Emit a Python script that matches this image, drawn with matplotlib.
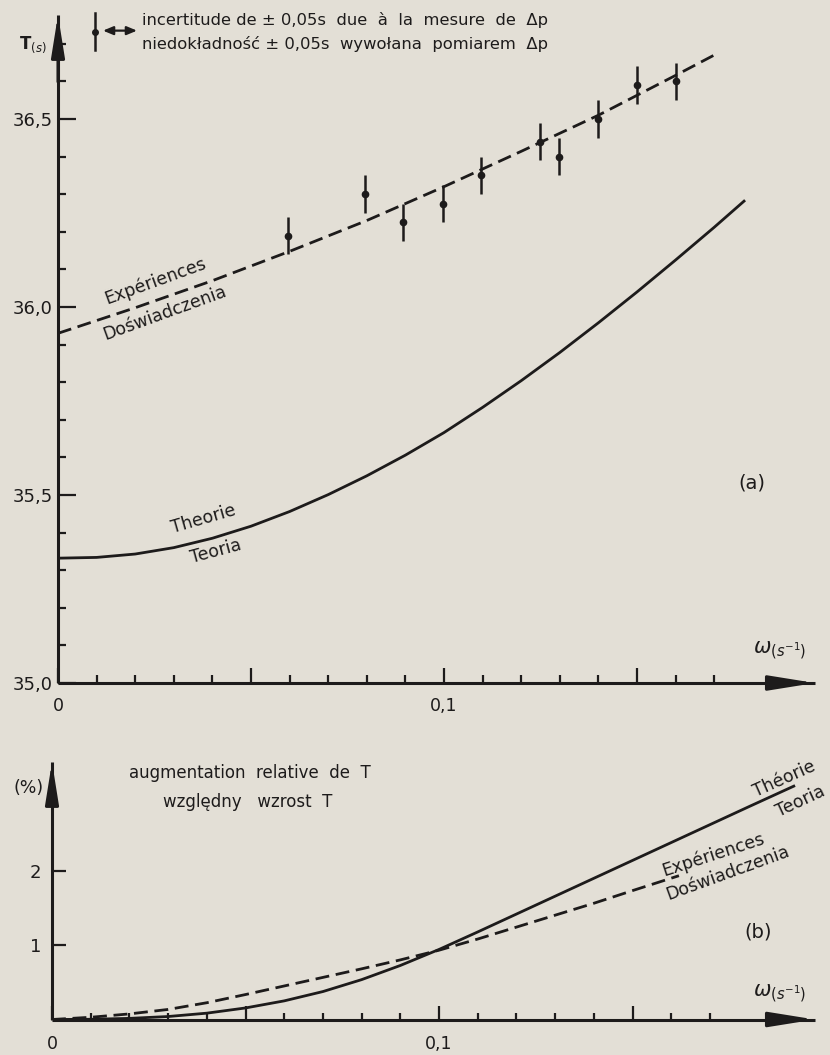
import numpy as np
import matplotlib
matplotlib.use('Agg')
import matplotlib.pyplot as plt

plt.rcParams['font.family'] = ['DejaVu Sans']
plt.rcParams['mathtext.fontset'] = 'dejavusans'

paper = '#e3dfd6'
ink = '#1d1b1b'

# --- (a) periode T en fonction de omega ---
omega_pts = [0.0595, 0.0795, 0.0895, 0.0997, 0.1096, 0.1249, 0.1298, 0.140, 0.150, 0.160]
T_pts = [36.19, 36.30, 36.225, 36.275, 36.35, 36.44, 36.40, 36.50, 36.59, 36.60]
T_err = 0.05

omega_exp = [0, 0.02, 0.04, 0.06, 0.08, 0.10, 0.12, 0.14, 0.16, 0.17]
T_exp = [35.93, 35.998, 36.07, 36.148, 36.23, 36.32, 36.414, 36.51, 36.616, 36.67]

omega_th = [0, 0.01, 0.02, 0.03, 0.04, 0.05, 0.06, 0.07, 0.08, 0.09,
            0.10, 0.11, 0.12, 0.13, 0.14, 0.15, 0.16, 0.17, 0.178]
T_th = [35.332, 35.334, 35.343, 35.360, 35.385, 35.417, 35.456, 35.501, 35.551, 35.606,
        35.666, 35.733, 35.804, 35.879, 35.958, 36.040, 36.125, 36.212, 36.284]

T_ticks = [35.0, 35.5, 36.0, 36.5]
T_ticklabels = ['35,0', '35,5', '36,0', '36,5']

# --- (b) augmentation relative (%) ---
omega_b_th = [0, 0.01, 0.02, 0.03, 0.04, 0.05, 0.06, 0.07, 0.08, 0.09,
              0.10, 0.11, 0.12, 0.13, 0.14, 0.15, 0.16, 0.17, 0.18, 0.192]
pct_th = [0, 0.003, 0.015, 0.04, 0.085, 0.155, 0.25, 0.375, 0.535, 0.725,
          0.94, 1.175, 1.415, 1.655, 1.895, 2.135, 2.375, 2.615, 2.855, 3.14]

omega_b_exp = [0, 0.01, 0.02, 0.03, 0.04, 0.05, 0.06, 0.07, 0.08, 0.09,
               0.10, 0.11, 0.12, 0.13, 0.14, 0.15, 0.162]
pct_exp = [0, 0.03, 0.075, 0.135, 0.225, 0.335, 0.45, 0.565, 0.68, 0.80,
           0.93, 1.08, 1.24, 1.40, 1.56, 1.73, 1.93]

pct_ticks = [1, 2]
pct_ticklabels = ['1', '2']

omega_major = [0, 0.05, 0.10, 0.15]
omega_labels = ['0', '', '0,1', '']
omega_minor = [0.01, 0.02, 0.03, 0.04, 0.06, 0.07, 0.08, 0.09,
               0.11, 0.12, 0.13, 0.14, 0.16, 0.17]

dash = (0, (5, 2.4))

fig = plt.figure(figsize=(8.3, 10.55), dpi=100, facecolor=paper)


def axes_px(left, right, top, bottom):
    # position d'un axe en pixels de la figure (origine en haut a gauche)
    W, H = 830, 1055
    return fig.add_axes([left / W, (H - bottom) / H, (right - left) / W, (bottom - top) / H])


def style_axes(ax):
    ax.set_facecolor('none')
    for s in ['top', 'right']:
        ax.spines[s].set_visible(False)
    for s in ['left', 'bottom']:
        ax.spines[s].set_linewidth(2.2)
        ax.spines[s].set_color(ink)
        ax.spines[s].set_capstyle('butt')
    # fleches au bout des axes
    ax.annotate('', xy=(1, 0), xytext=(0.94, 0), xycoords='axes fraction',
                arrowprops=dict(arrowstyle='-|>,head_length=2.8,head_width=0.45',
                                lw=2.2, color=ink, shrinkA=0, shrinkB=0, mutation_scale=10))
    ax.annotate('', xy=(0, 1), xytext=(0, 0.9), xycoords='axes fraction',
                arrowprops=dict(arrowstyle='-|>,head_length=2.5,head_width=0.4',
                                lw=2.2, color=ink, shrinkA=0, shrinkB=0, mutation_scale=10))


# ================= (a) =================
ax = axes_px(58, 815, 15, 683)
style_axes(ax)
ax.set_xlim(0, 757 / 3860)
ax.set_ylim(35.0, 35.0 + 668 / 376)

ax.plot(omega_th, T_th, color=ink, lw=2.0, solid_capstyle='butt')
ax.plot(omega_exp, T_exp, color=ink, lw=2.0, linestyle=dash)
ax.errorbar(omega_pts, T_pts, yerr=T_err, fmt='o', ms=4.5, color=ink,
            elinewidth=1.8, capsize=0)

ax.set_xticks(omega_major)
ax.set_xticklabels(omega_labels)
ax.set_xticks(omega_minor, minor=True)
ax.set_yticks(T_ticks)
ax.set_yticklabels(T_ticklabels)
ax.set_yticks(np.round(np.arange(35.1, 36.75, 0.1), 1), minor=True)
ax.tick_params(axis='x', which='major', direction='in', length=11, width=1.6,
               colors=ink, labelsize=12.5, pad=10)
ax.tick_params(axis='x', which='minor', direction='in', length=6, width=1.6, colors=ink)
ax.tick_params(axis='y', which='major', direction='in', length=13, width=1.6,
               colors=ink, labelsize=13, pad=4)
ax.tick_params(axis='y', which='minor', direction='in', length=6, width=1.6, colors=ink)

ax.text(-0.033, 0.955, r'T$_{(s)}$', transform=ax.transAxes, fontsize=12,
        ha='center', va='center', color=ink, fontweight='bold')
ax.text(0.187, 35.085, r'$\omega_{(s^{-1})}$', fontsize=15, ha='center', va='center', color=ink)
ax.text(0.1798, 35.532, '(a)', fontsize=14, ha='center', va='center', color=ink)

ax.text(0.0251, 36.07, 'Expériences', rotation=20, fontsize=12.5,
        ha='center', va='center', color=ink, rotation_mode='anchor')
ax.text(0.0277, 35.985, 'Doświadczenia', rotation=20, fontsize=12.5,
        ha='center', va='center', color=ink, rotation_mode='anchor')
ax.text(0.0376, 35.436, 'Theorie', rotation=16, fontsize=12.5,
        ha='center', va='center', color=ink, rotation_mode='anchor')
ax.text(0.0409, 35.351, 'Teoria', rotation=15, fontsize=12.5,
        ha='center', va='center', color=ink, rotation_mode='anchor')

# cle de l'incertitude
ax.plot([0.0489, 0.0489], [0.948, 1.003], transform=ax.transAxes, color=ink,
        lw=1.8, clip_on=False)
ax.plot([0.0489], [0.9746], 'o', ms=4, transform=ax.transAxes, color=ink, clip_on=False)
ax.annotate('', xy=(0.1044, 0.9766), xytext=(0.0594, 0.9766), xycoords='axes fraction',
            arrowprops=dict(arrowstyle='<|-|>,head_length=0.6,head_width=0.25',
                            lw=1.6, color=ink, shrinkA=0, shrinkB=0))
ax.text(0.111, 0.9925, 'incertitude de ± 0,05s  due  à  la  mesure  de  Δp',
        transform=ax.transAxes, fontsize=11.8, ha='left', va='center', color=ink)
ax.text(0.111, 0.9566, 'niedokładność ± 0,05s  wywołana  pomiarem  Δp',
        transform=ax.transAxes, fontsize=11.8, ha='left', va='center', color=ink)

# ================= (b) =================
bx = axes_px(52, 815, 762, 1019.5)
style_axes(bx)
bx.set_xlim(0, 763 / 3870)
bx.set_ylim(0, 257.5 / 74.5)

bx.plot(omega_b_th, pct_th, color=ink, lw=2.0, solid_capstyle='butt')
bx.plot(omega_b_exp, pct_exp, color=ink, lw=2.0, linestyle=dash)

bx.set_xticks(omega_major)
bx.set_xticklabels(omega_labels)
bx.set_xticks(omega_minor, minor=True)
bx.set_yticks(pct_ticks)
bx.set_yticklabels(pct_ticklabels)
bx.tick_params(axis='x', which='major', direction='in', length=10, width=1.6,
               colors=ink, labelsize=12.5, pad=11)
bx.tick_params(axis='x', which='minor', direction='in', length=5, width=1.6, colors=ink)
bx.tick_params(axis='y', which='major', direction='in', length=10, width=1.6,
               colors=ink, labelsize=13, pad=8)

bx.text(-0.031, 0.899, '(%)', transform=bx.transAxes, fontsize=12.5,
        ha='center', va='center', color=ink)
bx.text(0.2595, 0.957, 'augmentation  relative  de  T', transform=bx.transAxes,
        fontsize=12, ha='center', va='center', color=ink)
bx.text(0.257, 0.845, 'względny   wzrost  T', transform=bx.transAxes,
        fontsize=12, ha='center', va='center', color=ink)
bx.text(0.188, 0.34, r'$\omega_{(s^{-1})}$', fontsize=15, ha='center', va='center', color=ink)
bx.text(0.1824, 1.174, '(b)', fontsize=14, ha='center', va='center', color=ink)

bx.text(0.1891, 3.228, 'Théorie', rotation=24, fontsize=12.5,
        ha='center', va='center', color=ink, rotation_mode='anchor')
bx.text(0.1933, 2.933, 'Teoria', rotation=25, fontsize=12.5,
        ha='center', va='center', color=ink, rotation_mode='anchor')
bx.text(0.1708, 2.208, 'Expériences', rotation=18, fontsize=12.5,
        ha='center', va='center', color=ink, rotation_mode='anchor')
bx.text(0.1747, 1.966, 'Doświadczenia', rotation=20, fontsize=12.5,
        ha='center', va='center', color=ink, rotation_mode='anchor')

fig.savefig('out.png', dpi=100, facecolor=paper)
